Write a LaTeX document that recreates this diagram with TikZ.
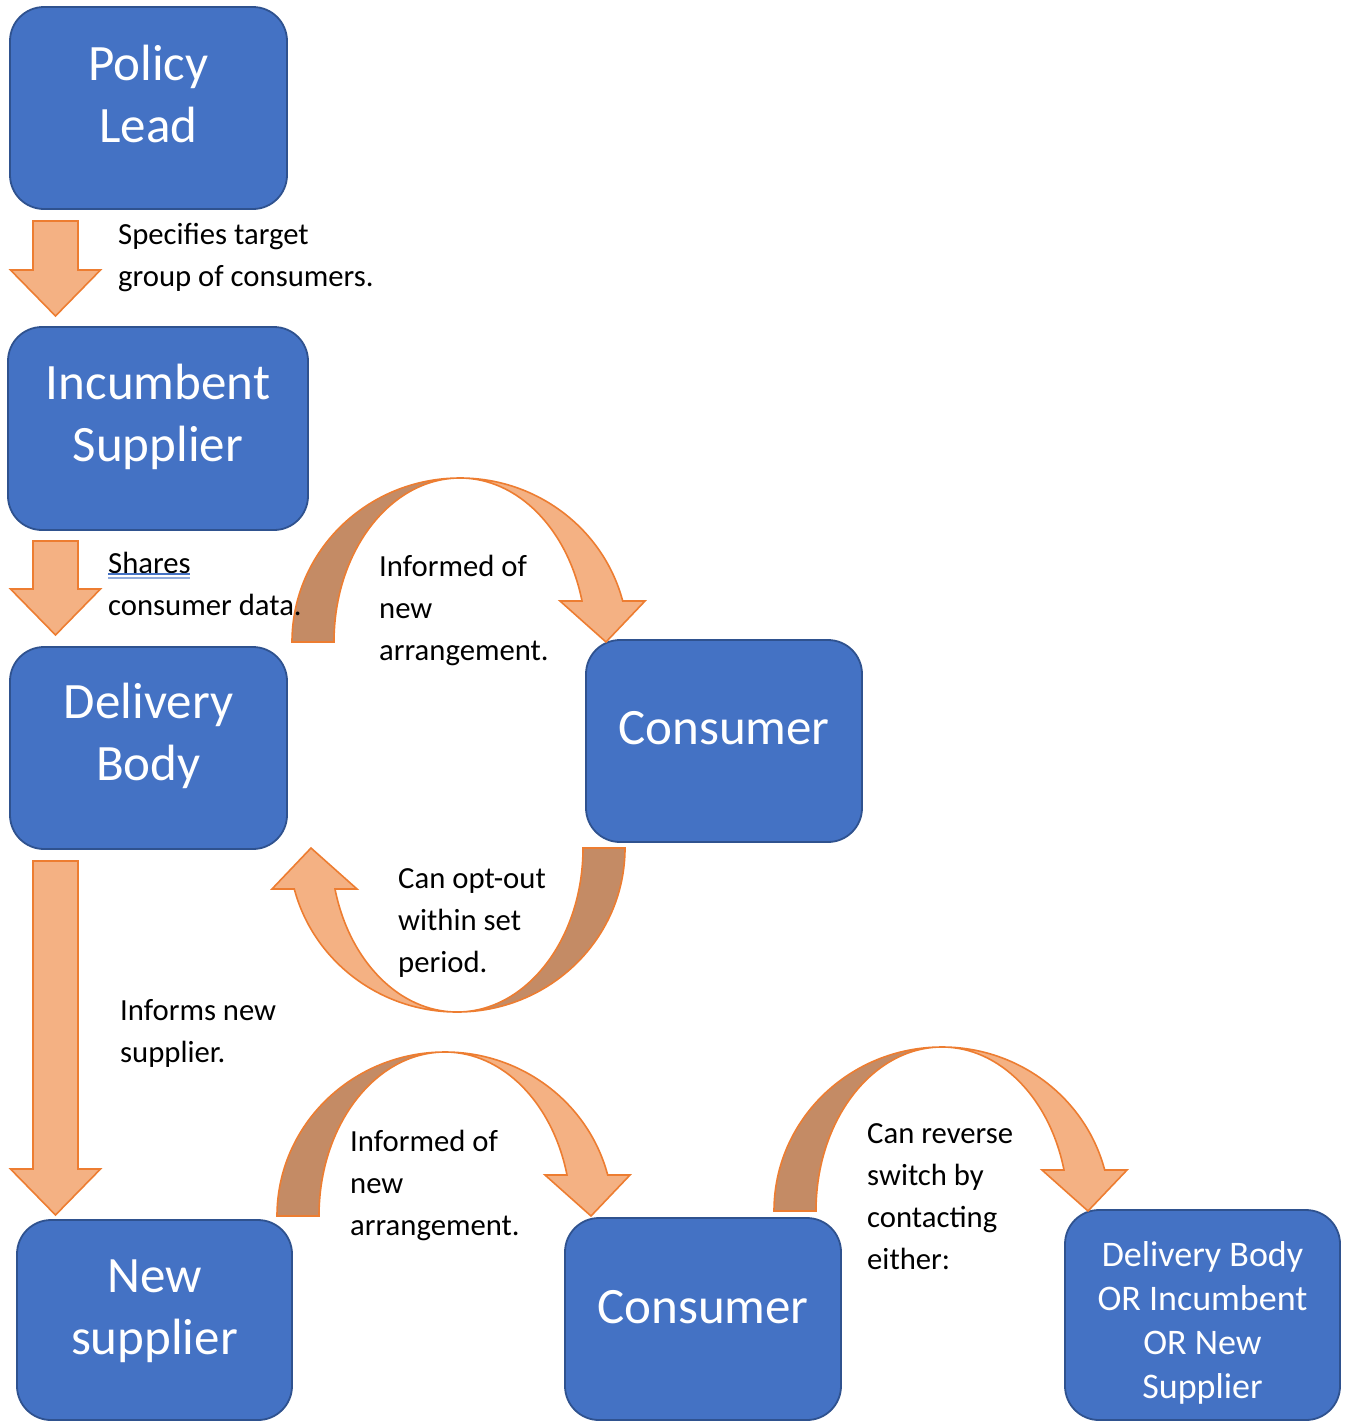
\documentclass[tikz,border=0pt]{standalone}
\usepackage{fontspec}
\setmainfont{Carlito}
\usetikzlibrary{calc}
\definecolor{boxblue}{HTML}{4472C4}
\definecolor{boxline}{HTML}{2F528F}
\definecolor{arrowfill}{HTML}{F4B183}
\definecolor{arrowline}{HTML}{ED7D31}
\definecolor{arrowdark}{HTML}{C48B65}
\definecolor{squiggle}{HTML}{4472C4}
\definecolor{squigglelight}{HTML}{8FAADC}

% straight block arrow pointing down, from its tail centre (#1) to its tip (#2)
\newcommand\blockdown[2]{%
  \draw[blockarrow] let \p1=(#1), \p2=(#2) in
    (\x1-22.5pt,\y1) -- (\x1+22.5pt,\y1) -- (\x1+22.5pt,\y2+46pt)
    -- (\x1+45pt,\y2+46pt) -- (\x2,\y2) -- (\x1-45pt,\y2+46pt)
    -- (\x1-22.5pt,\y2+46pt) -- cycle;}

\tikzset{
  box/.style={draw=boxline, fill=boxblue, line width=1.8pt,
    rounded corners=34pt, inner sep=0pt},
  boxtext/.style={text=white, align=center, inner sep=0pt,
    font=\fontsize{51}{62}\selectfont},
  smallboxtext/.style={boxtext, font=\fontsize{36}{44}\selectfont},
  lbl/.style={align=left, inner sep=0pt, anchor=north west,
    font=\fontsize{30.7}{42}\selectfont},
  blockarrow/.style={draw=arrowline, fill=arrowfill, line width=1.6pt},
  % curved block arrow: apex at the origin, tail down-left, head down-right
  curvedarrow/.pic={
    \draw[blockarrow, fill=arrowdark]
      (0,0) .. controls (-92.8,0) and (-168,73.4) .. (-168,164)
      -- (-126,164) .. controls (-126,73.4) and (-69.6,0) .. (0,0) -- cycle;
    \draw[blockarrow]
      (0,0) .. controls (76.6,0) and (143.5,50.7) .. (162.7,123)
      -- (185,123) -- (146,164) -- (100,123) -- (122,123)
      .. controls (107.6,50.7) and (57.5,0) .. (0,0) -- cycle;
  }
}

\begin{document}
\begin{tikzpicture}[x=1pt, y=-1pt]
\useasboundingbox (0,0) rectangle (1349,1422);

% boxes
\node[box, minimum width=277pt, minimum height=202pt] (policy) at (148.5,108) {};
\node[box, minimum width=300pt, minimum height=203pt] (incumbent) at (158,428.5) {};
\node[box, minimum width=277pt, minimum height=202pt] (delivery) at (148.5,748) {};
\node[box, minimum width=276pt, minimum height=202pt] (consumerA) at (724,741) {};
\node[box, minimum width=275pt, minimum height=200pt] (newsup) at (154.5,1320) {};
\node[box, minimum width=276pt, minimum height=202pt] (consumerB) at (703,1319) {};
\node[box, minimum width=275pt, minimum height=210pt] (either) at (1202.5,1315) {};

\node[boxtext] (policyT) at (148.5,94) {Policy\\Lead};
\node[boxtext] (incumbentT) at (158,417) {Incumbent\\Supplier};
\node[boxtext] (deliveryT) at (148.5,736) {Delivery\\Body};
\node[boxtext] (consumerAT) at (724,728) {Consumer};
\node[boxtext] (newsupT) at (154.5,1311) {New\\supplier};
\node[boxtext] (consumerBT) at (703,1307) {Consumer};
\node[smallboxtext] (eitherT) at (1202.5,1323) {Delivery Body\\OR Incumbent\\OR New\\Supplier};

% straight arrows down the left side
\coordinate (a1s) at (55.5,221);  \coordinate (a1e) at (55.5,316);
\coordinate (a2s) at (55.5,541);  \coordinate (a2e) at (55.5,635);
\coordinate (a3s) at (55.5,861);  \coordinate (a3e) at (55.5,1215);
\blockdown{a1s}{a1e}
\blockdown{a2s}{a2e}
\blockdown{a3s}{a3e}

% curved arrows
\pic at (460,478) {curvedarrow};
\pic[rotate=180] at (457,1012) {curvedarrow};
\pic at (445,1052) {curvedarrow};
\pic at (942,1047) {curvedarrow};

% labels
\node[lbl] (l1) at (118,223) {Specifies target\\group of consumers.};
\node[lbl] (l2) at (108,552) {Shares\\consumer data.};
\node[lbl] (l3) at (379,555) {Informed of\\new\\arrangement.};
\node[lbl] (l4) at (398,868) {Can opt-out\\within set\\period.};
\node[lbl] (l5) at (120,999) {Informs new\\supplier.};
\node[lbl] (l6) at (350,1130) {Informed of\\new\\arrangement.};
\node[lbl] (l7) at (867,1123) {Can reverse\\switch by\\contacting\\either:};

% proofing underline under "Shares"
\draw[squiggle, line width=1.2pt] (108,574) -- (190,574);
\draw[squigglelight, line width=1.2pt] (108,578) -- (190,578);
\end{tikzpicture}
\end{document}
